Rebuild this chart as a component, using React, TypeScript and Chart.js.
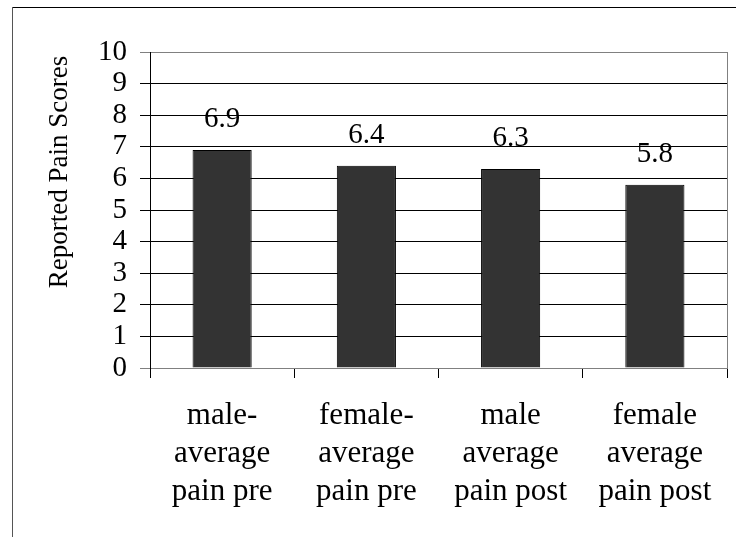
import React, { useEffect, useRef } from "react";
import { Chart, registerables } from "chart.js";

Chart.register(...registerables);

const categories: string[][] = [
  ["male-", "average", "pain pre"],
  ["female-", "average", "pain pre"],
  ["male", "average", "pain post"],
  ["female", "average", "pain post"],
];
const painScores: number[] = [6.9, 6.4, 6.3, 5.8];
const yTitle = "Reported Pain Scores";
const yMin = 0;
const yMax = 10;
const yStep = 1;

const FONT = "'Liberation Serif', 'Times New Roman', serif";

export default function App() {
  const ref = useRef<HTMLCanvasElement | null>(null);

  useEffect(() => {
    if (!ref.current) return;

    const decorPlugin = {
      id: "decor",
      beforeDraw(chart: any) {
        const ctx = chart.ctx;
        ctx.save();
        ctx.fillStyle = "#ffffff";
        ctx.fillRect(0, 0, chart.width, chart.height);
        ctx.restore();
      },
      afterDraw(chart: any) {
        const ctx = chart.ctx;
        const ca = chart.chartArea;
        ctx.save();
        ctx.strokeStyle = "#000000";
        ctx.lineWidth = 1;
        ctx.beginPath();
        ctx.moveTo(12, 7.5);
        ctx.lineTo(chart.width, 7.5);
        ctx.stroke();
        ctx.strokeStyle = "#555555";
        ctx.beginPath();
        ctx.moveTo(12.5, 7);
        ctx.lineTo(12.5, chart.height);
        ctx.stroke();
        ctx.strokeStyle = "#808080";
        ctx.beginPath();
        ctx.moveTo(Math.round(ca.right) + 0.5, ca.top);
        ctx.lineTo(Math.round(ca.right) + 0.5, ca.bottom);
        ctx.stroke();
        ctx.fillStyle = "#000000";
        ctx.font = `27px ${FONT}`;
        ctx.textAlign = "center";
        ctx.textBaseline = "middle";
        ctx.translate(60, 172);
        ctx.rotate(-Math.PI / 2);
        ctx.fillText(yTitle, 0, 0);
        ctx.restore();
      },
      afterDatasetsDraw(chart: any) {
        const ctx = chart.ctx;
        const meta = chart.getDatasetMeta(0);
        ctx.save();
        ctx.fillStyle = "#000000";
        ctx.font = `29px ${FONT}`;
        ctx.textAlign = "center";
        ctx.textBaseline = "alphabetic";
        meta.data.forEach((bar: any, i: number) => {
          const v = chart.data.datasets[0].data[i] as number;
          ctx.fillText(v.toFixed(1), bar.x, bar.y - 23);
        });
        ctx.restore();
      },
    };

    const chart = new Chart(ref.current, {
      type: "bar",
      data: {
        labels: categories,
        datasets: [
          {
            data: painScores,
            backgroundColor: "#333333",
            borderColor: "#000000",
            borderWidth: 1,
            barPercentage: 0.41,
            categoryPercentage: 1,
          },
        ],
      },
      options: {
        animation: false,
        responsive: false,
        maintainAspectRatio: false,
        layout: { padding: { left: 0, top: 52, right: 9, bottom: 0 } },
        plugins: {
          legend: { display: false },
          tooltip: { enabled: false },
        },
        scales: {
          x: {
            grid: {
              offset: true,
              drawOnChartArea: false,
              tickLength: 10,
              color: (c: any) => (c.index === categories.length ? "#808080" : "#000000"),
            },
            border: { color: "#808080" },
            ticks: {
              color: "#000000",
              padding: 19,
              maxRotation: 0,
              autoSkip: false,
              font: { family: FONT, size: 31, lineHeight: "38px" as any },
            },
            afterFit: (s: any) => {
              s.height = 169;
            },
          },
          y: {
            min: yMin,
            max: yMax,
            grid: {
              tickLength: 10,
              color: (c: any) =>
                c.tick && (c.tick.value === yMin || c.tick.value === yMax) ? "#808080" : "#000000",
            },
            border: { color: "#000000" },
            ticks: {
              stepSize: yStep,
              autoSkip: false,
              color: "#000000",
              padding: 13,
              font: { family: FONT, size: 29, lineHeight: 1 },
            },
            afterFit: (s: any) => {
              s.width = 150;
            },
          },
        },
      },
      plugins: [decorPlugin],
    });
    return () => chart.destroy();
  }, []);

  return (
    <div style={{ position: "fixed", left: 0, top: 0, width: 736, height: 537 }}>
      <canvas ref={ref} width={736} height={537} style={{ width: 736, height: 537, display: "block" }} />
    </div>
  );
}
